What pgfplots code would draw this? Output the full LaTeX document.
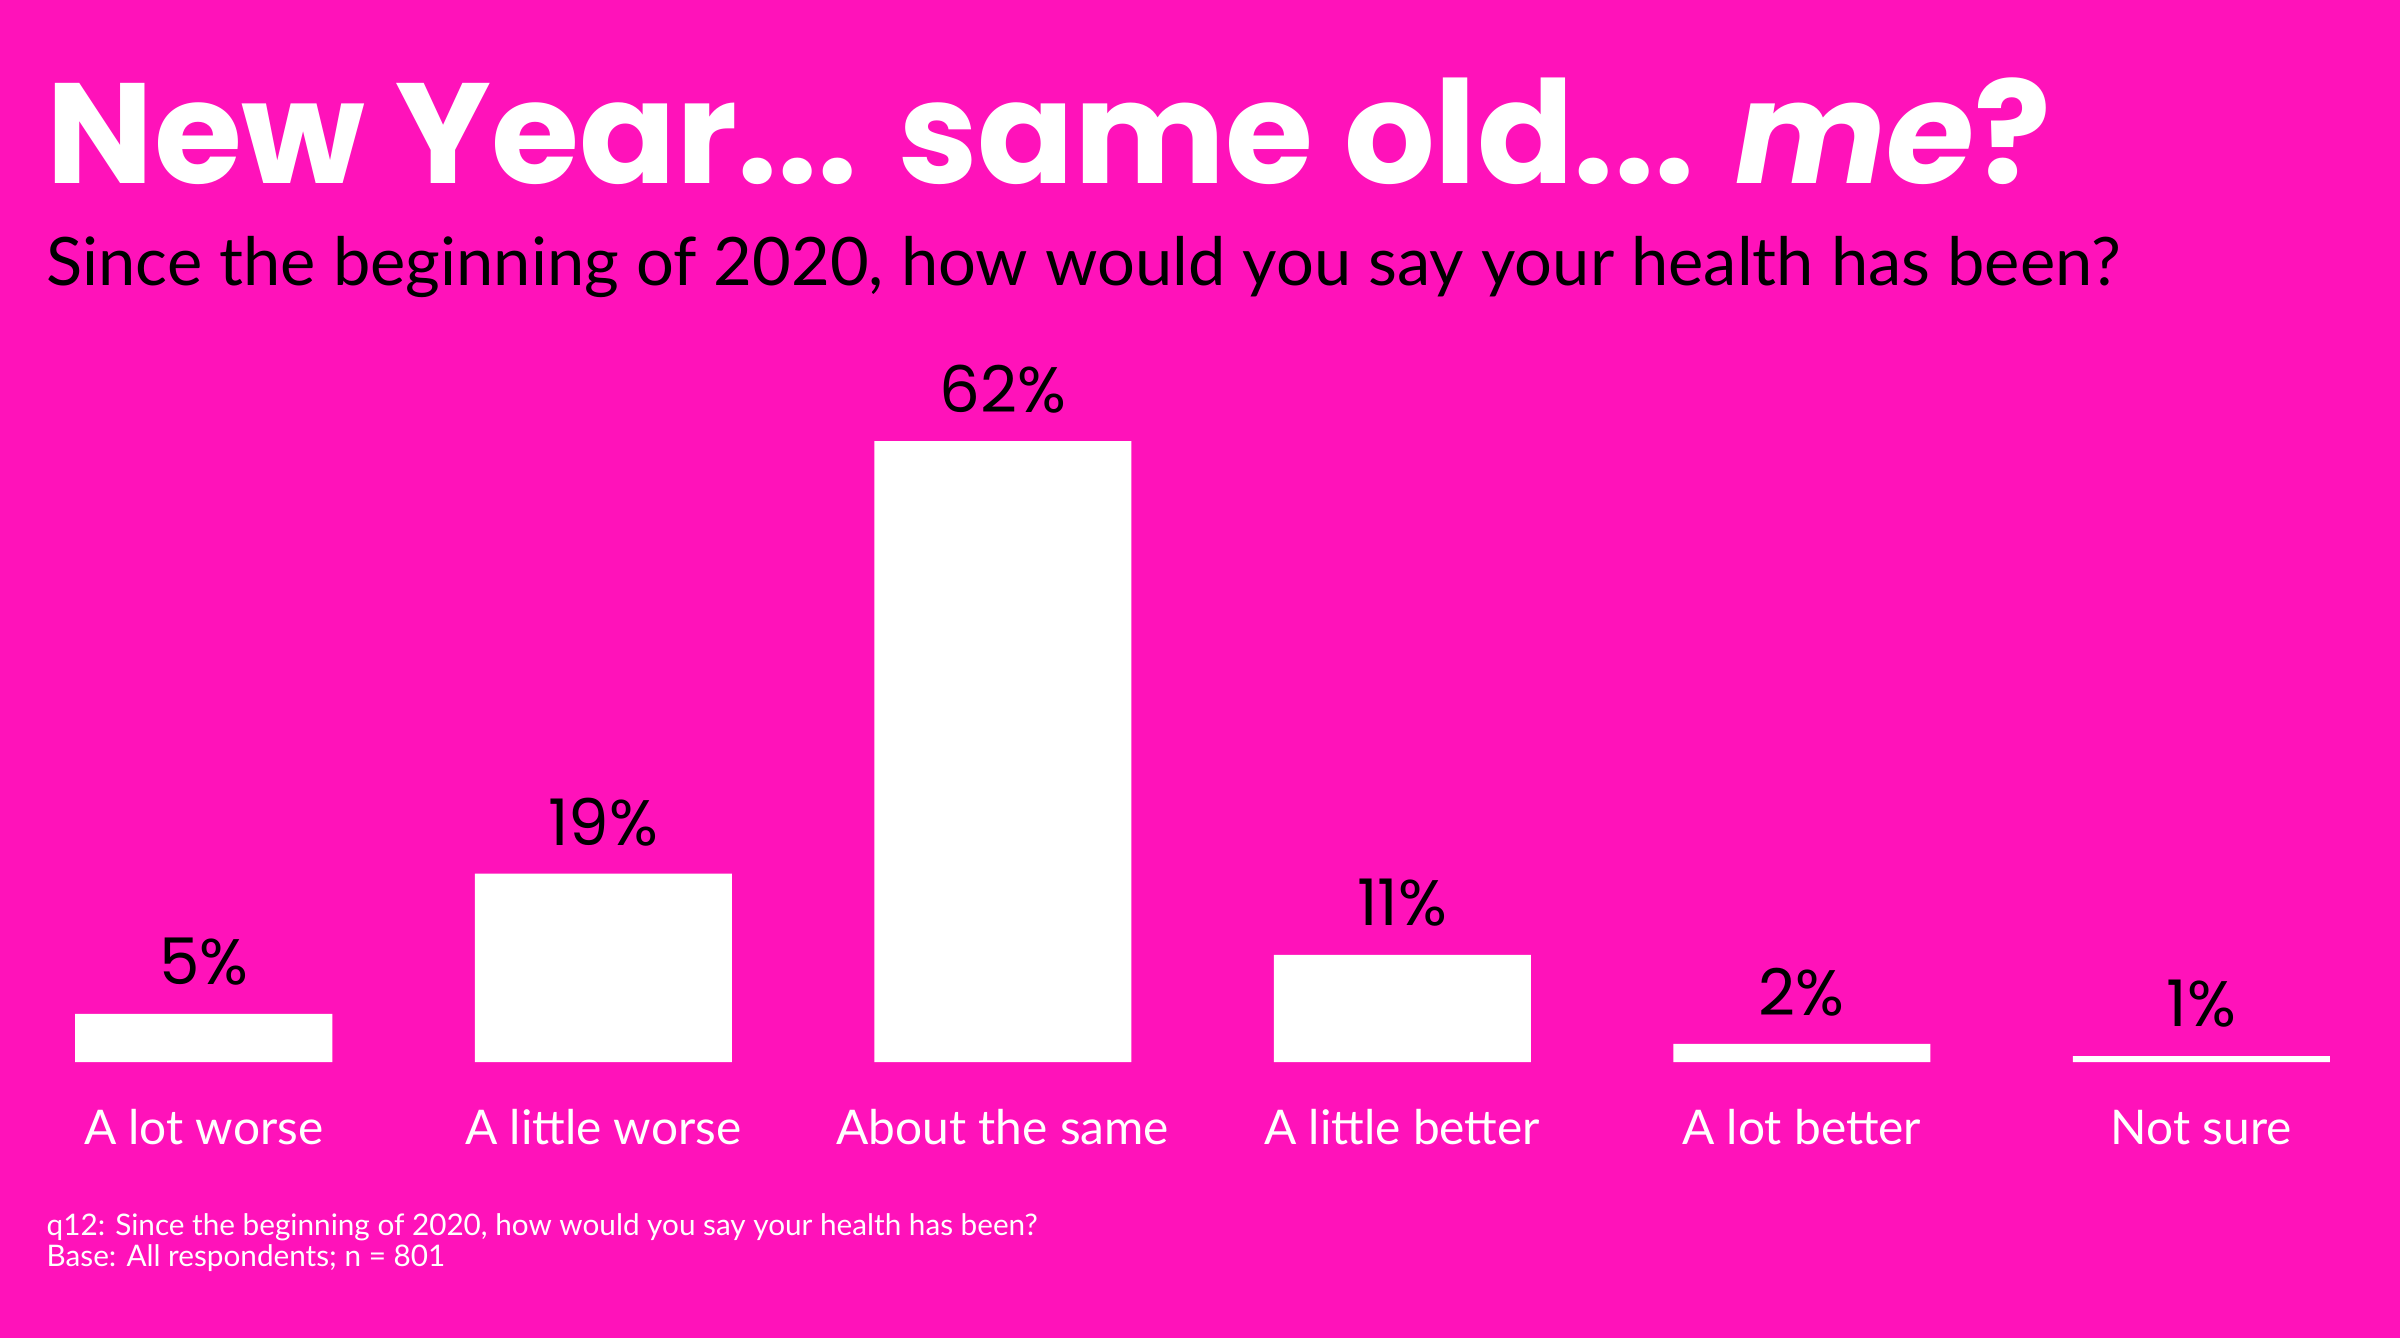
\documentclass[border=0pt]{standalone}
\usepackage{pgfplots}
\pgfplotsset{compat=1.18}
\usepackage{pgfplotstable}
\usepackage{fontspec}
\setmainfont{Lato}
\newfontfamily\poppins{Poppins}
\definecolor{bgpink}{HTML}{FF12BA}

% bar heights, labels as printed
\pgfplotstableread{
x y lab
0 4.8 5
1 18.8 19
2 62 62
3 10.7 11
4 1.8 2
5 0.6 1
}\health

\begin{document}
\begin{tikzpicture}
\fill[bgpink] (0,0) rectangle (24,13.38);
\useasboundingbox (0,0) rectangle (24,13.38);

\node[anchor=base west, inner sep=0, text=white,
  font=\poppins\bfseries\fontsize{40.6}{49}\selectfont] at (0.46,11.55)
  {New Year... same old... \textit{me}?};
\node[anchor=base west, inner sep=0, text=black,
  font=\fontsize{19}{23}\selectfont] at (0.46,10.53)
  {Since the beginning of 2020, how would you say your health has been?};
\node[anchor=base west, inner sep=0, text=white, align=left,
  font=\fontsize{8.45}{8.7}\selectfont] at (0.46,0.72)
  {q12: Since the beginning of 2020, how would you say your health has been?\\Base: All respondents; n = 801};

\begin{axis}[
  at={(0.04cm,2.76cm)}, anchor=south west,
  width=23.97cm, height=6.21cm, scale only axis,
  xmin=-0.5, xmax=5.5, ymin=0, ymax=62,
  clip=false,
  axis line style={draw=none},
  tick style={draw=none},
  ytick=\empty,
  xtick=data,
  xticklabels={A lot worse, A little worse, About the same, A little better, A lot better, Not sure},
  xticklabel style={text=white, font=\fontsize{13.6}{16}\selectfont, anchor=base, yshift=-0.67cm},
  ybar, bar width=2.57cm,
  point meta=explicit symbolic,
  nodes near coords={\pgfplotspointmeta\%},
  every node near coord/.append style={anchor=center, yshift=0.52cm, text=black,
    font=\poppins\fontsize{18.3}{22}\selectfont},
]
\addplot[fill=white, draw=none] table[x=x, y=y, meta=lab] {\health};
\end{axis}
\end{tikzpicture}
\end{document}
